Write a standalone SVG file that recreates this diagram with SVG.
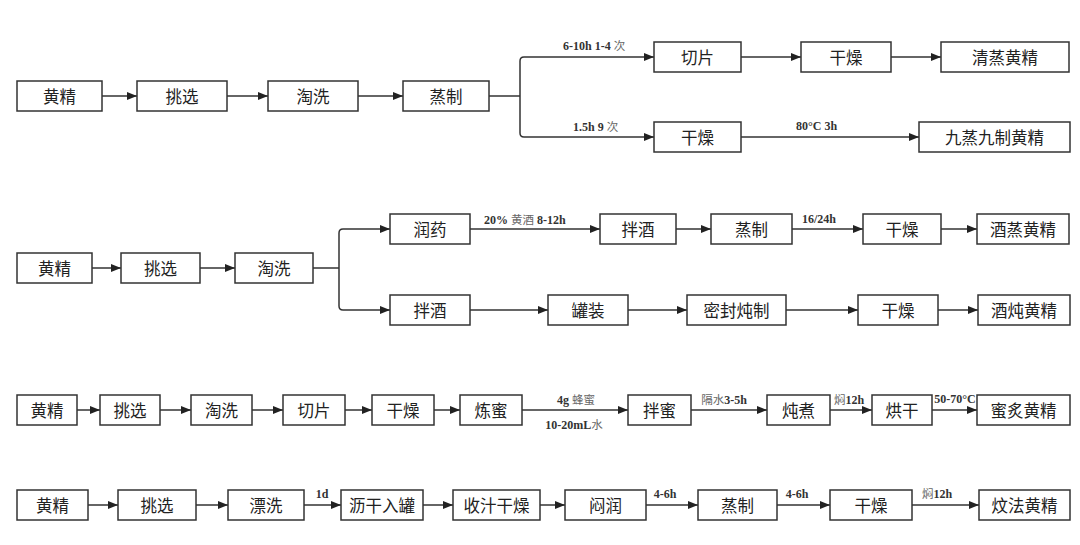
<svg xmlns="http://www.w3.org/2000/svg" width="1080" height="545" viewBox="0 0 1080 545">
<style>
.b{fill:#fff;stroke:#333;stroke-width:1.5}
.t{font-family:"Noto Sans CJK SC","Liberation Serif",serif;font-size:16.5px;fill:#222;text-anchor:middle;dominant-baseline:central}
.c{fill:none;stroke:#333;stroke-width:1.5}
.a{marker-end:url(#ar)}
.l{font-family:"Liberation Serif","Noto Sans CJK SC",serif;font-size:12px;font-weight:bold;fill:#333}
.m{text-anchor:middle}
.z{font-family:"Noto Sans CJK SC",sans-serif;font-weight:normal;fill:#666;font-size:11.5px}
</style>
<defs>
<marker id="ar" viewBox="0 0 10 8" refX="10" refY="4" markerWidth="10" markerHeight="8" orient="auto" markerUnits="userSpaceOnUse"><path d="M0,0 L10,4 L0,8 z" fill="#222"/></marker>
</defs>
<rect width="1080" height="545" fill="#fff"/>

<g id="connectors">
<path class="c a" d="M102,96 H137"/>
<path class="c a" d="M227,96 H268"/>
<path class="c a" d="M358,96 H403"/>
<path class="c" d="M489,96 H520"/>
<path class="c a" d="M520,96 V61 Q520,57 524,57 H654"/>
<path class="c a" d="M520,96 V133 Q520,137 524,137 H654"/>
<path class="c a" d="M741,57 H801"/>
<path class="c a" d="M891,57 H941"/>
<path class="c a" d="M741,137 H919"/>
<path class="c a" d="M92,268 H121"/>
<path class="c a" d="M200,268 H235"/>
<path class="c" d="M313,268 H339"/>
<path class="c a" d="M339,268 V233 Q339,229 343,229 H390"/>
<path class="c a" d="M339,268 V306 Q339,310 343,310 H390"/>
<path class="c a" d="M470,229 H600"/>
<path class="c a" d="M676,229 H711"/>
<path class="c a" d="M792,229 H863"/>
<path class="c a" d="M941,229 H977"/>
<path class="c a" d="M470,310 H548"/>
<path class="c a" d="M628,310 H687"/>
<path class="c a" d="M786,310 H858"/>
<path class="c a" d="M938,310 H978"/>
<path class="c a" d="M77,410 H100"/>
<path class="c a" d="M160,410 H191"/>
<path class="c a" d="M252,410 H283"/>
<path class="c a" d="M345,410 H372"/>
<path class="c a" d="M434,410 H460"/>
<path class="c a" d="M522,410 H628"/>
<path class="c a" d="M691,410 H767"/>
<path class="c a" d="M830,410 H872"/>
<path class="c a" d="M932,410 H977"/>
<path class="c a" d="M88,505 H118"/>
<path class="c a" d="M196,505 H228"/>
<path class="c a" d="M304,505 H341"/>
<path class="c a" d="M423,505 H453"/>
<path class="c a" d="M540,505 H565"/>
<path class="c a" d="M646,505 H698"/>
<path class="c a" d="M777,505 H830"/>
<path class="c a" d="M912,505 H979"/>
</g>

<g id="labels">
<text class="l" x="563" y="50">6-10h 1-4 <tspan class="z">次</tspan></text>
<text class="l" x="573" y="131">1.5h 9 <tspan class="z">次</tspan></text>
<text class="l" x="796" y="130">80°C 3h</text>
<text class="l" x="484" y="224">20% <tspan class="z">黄酒</tspan> 8-12h</text>
<text class="l" x="802" y="223">16/24h</text>
<text class="l m" x="576" y="404">4g <tspan class="z">蜂蜜</tspan></text>
<text class="l m" x="574" y="429">10-20mL<tspan class="z">水</tspan></text>
<text class="l m" x="724" y="404"><tspan class="z">隔水</tspan>3-5h</text>
<text class="l m" x="849" y="404"><tspan class="z">焖</tspan>12h</text>
<text class="l m" x="955" y="403">50-70°C</text>
<text class="l m" x="322" y="498">1d</text>
<text class="l m" x="665" y="498">4-6h</text>
<text class="l m" x="797" y="498">4-6h</text>
<text class="l m" x="937" y="498"><tspan class="z">焖</tspan>12h</text>
</g>

<g id="r1n1"><rect class="b" x="17" y="81" width="85" height="30"/><text class="t" x="59.5" y="96">黄精</text></g>
<g id="r1n2"><rect class="b" x="137" y="81" width="90" height="30"/><text class="t" x="182" y="96">挑选</text></g>
<g id="r1n3"><rect class="b" x="268" y="81" width="90" height="30"/><text class="t" x="313" y="96">淘洗</text></g>
<g id="r1n4"><rect class="b" x="403" y="81" width="86" height="30"/><text class="t" x="446" y="96">蒸制</text></g>
<g id="r1n5"><rect class="b" x="654" y="42" width="87" height="30"/><text class="t" x="697.5" y="57">切片</text></g>
<g id="r1n6"><rect class="b" x="801" y="42" width="90" height="30"/><text class="t" x="846" y="57">干燥</text></g>
<g id="r1n7"><rect class="b" x="941" y="42" width="128" height="30"/><text class="t" x="1005" y="57">清蒸黄精</text></g>
<g id="r1n8"><rect class="b" x="654" y="122" width="87" height="30"/><text class="t" x="697.5" y="137">干燥</text></g>
<g id="r1n9"><rect class="b" x="919" y="122" width="151" height="30"/><text class="t" x="994.5" y="137">九蒸九制黄精</text></g>

<g id="r2n1"><rect class="b" x="17" y="253" width="75" height="30"/><text class="t" x="54.5" y="268">黄精</text></g>
<g id="r2n2"><rect class="b" x="121" y="253" width="79" height="30"/><text class="t" x="160.5" y="268">挑选</text></g>
<g id="r2n3"><rect class="b" x="235" y="253" width="78" height="30"/><text class="t" x="274" y="268">淘洗</text></g>
<g id="r2n4"><rect class="b" x="390" y="214" width="80" height="30"/><text class="t" x="430" y="229">润药</text></g>
<g id="r2n5"><rect class="b" x="600" y="214" width="76" height="30"/><text class="t" x="638" y="229">拌酒</text></g>
<g id="r2n6"><rect class="b" x="711" y="214" width="81" height="30"/><text class="t" x="751.5" y="229">蒸制</text></g>
<g id="r2n7"><rect class="b" x="863" y="214" width="78" height="30"/><text class="t" x="902" y="229">干燥</text></g>
<g id="r2n8"><rect class="b" x="977" y="214" width="92" height="30"/><text class="t" x="1023" y="229">酒蒸黄精</text></g>
<g id="r2n9"><rect class="b" x="390" y="295" width="80" height="30"/><text class="t" x="430" y="310">拌酒</text></g>
<g id="r2n10"><rect class="b" x="548" y="295" width="80" height="30"/><text class="t" x="588" y="310">罐装</text></g>
<g id="r2n11"><rect class="b" x="687" y="295" width="99" height="30"/><text class="t" x="736.5" y="310">密封炖制</text></g>
<g id="r2n12"><rect class="b" x="858" y="295" width="80" height="30"/><text class="t" x="898" y="310">干燥</text></g>
<g id="r2n13"><rect class="b" x="978" y="295" width="92" height="30"/><text class="t" x="1024" y="310">酒炖黄精</text></g>

<g id="r3n1"><rect class="b" x="17" y="395" width="60" height="30"/><text class="t" x="47" y="410">黄精</text></g>
<g id="r3n2"><rect class="b" x="100" y="395" width="60" height="30"/><text class="t" x="130" y="410">挑选</text></g>
<g id="r3n3"><rect class="b" x="191" y="395" width="61" height="30"/><text class="t" x="221.5" y="410">淘洗</text></g>
<g id="r3n4"><rect class="b" x="283" y="395" width="62" height="30"/><text class="t" x="314" y="410">切片</text></g>
<g id="r3n5"><rect class="b" x="372" y="395" width="62" height="30"/><text class="t" x="403" y="410">干燥</text></g>
<g id="r3n6"><rect class="b" x="460" y="395" width="62" height="30"/><text class="t" x="491" y="410">炼蜜</text></g>
<g id="r3n7"><rect class="b" x="628" y="395" width="63" height="30"/><text class="t" x="659.5" y="410">拌蜜</text></g>
<g id="r3n8"><rect class="b" x="767" y="395" width="63" height="30"/><text class="t" x="798.5" y="410">炖煮</text></g>
<g id="r3n9"><rect class="b" x="872" y="395" width="60" height="30"/><text class="t" x="902" y="410">烘干</text></g>
<g id="r3n10"><rect class="b" x="977" y="395" width="93" height="30"/><text class="t" x="1023.5" y="410">蜜炙黄精</text></g>

<g id="r4n1"><rect class="b" x="17" y="490" width="71" height="30"/><text class="t" x="52.5" y="505">黄精</text></g>
<g id="r4n2"><rect class="b" x="118" y="490" width="78" height="30"/><text class="t" x="157" y="505">挑选</text></g>
<g id="r4n3"><rect class="b" x="228" y="490" width="76" height="30"/><text class="t" x="266" y="505">漂洗</text></g>
<g id="r4n4"><rect class="b" x="341" y="490" width="82" height="30"/><text class="t" x="382" y="505">沥干入罐</text></g>
<g id="r4n5"><rect class="b" x="453" y="490" width="87" height="30"/><text class="t" x="496.5" y="505">收汁干燥</text></g>
<g id="r4n6"><rect class="b" x="565" y="490" width="81" height="30"/><text class="t" x="605.5" y="505">闷润</text></g>
<g id="r4n7"><rect class="b" x="698" y="490" width="79" height="30"/><text class="t" x="737.5" y="505">蒸制</text></g>
<g id="r4n8"><rect class="b" x="830" y="490" width="82" height="30"/><text class="t" x="871" y="505">干燥</text></g>
<g id="r4n9"><rect class="b" x="979" y="490" width="91" height="30"/><text class="t" x="1024.5" y="505">炆法黄精</text></g>
</svg>
